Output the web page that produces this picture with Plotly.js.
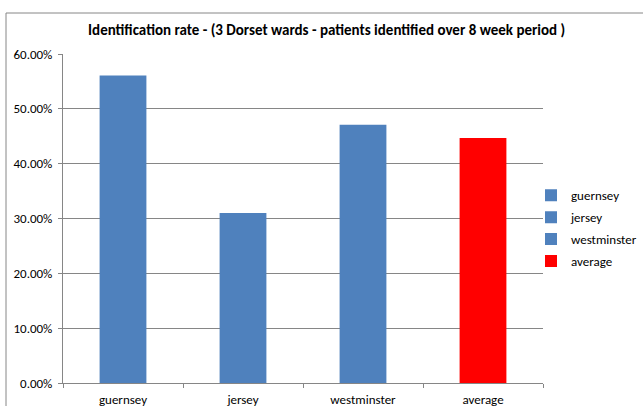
<!DOCTYPE html>
<html>
<head>
<meta charset="utf-8">
<script src="https://cdn.plot.ly/plotly-3.0.1.min.js"></script>
<style>html,body{margin:0;padding:0;background:#fff;overflow:hidden}</style>
</head>
<body>
<div id="chart" style="width:643px;height:406px"></div>
<script>
const categories = ["guernsey", "jersey", "westminster", "average"];
const values = [0.561, 0.31, 0.471, 0.447];
const colors = ["#4F81BD", "#4F81BD", "#4F81BD", "#FF0000"];
const titleText = "Identification rate - (3 Dorset wards - patients identified over 8 week period )";

const FONT = "Carlito, Calibri, 'Liberation Sans Narrow', sans-serif";

const traces = categories.map((c, i) => ({
  type: "bar",
  name: c,
  legendgroup: c,
  x: [c],
  y: [values[i]],
  width: 0.39,
  marker: {color: colors[i]},
  hoverinfo: "x+y"
}));

const layout = {
  width: 643, height: 406,
  margin: {l: 63, r: 100, t: 54, b: 23, autoexpand: false},
  paper_bgcolor: "#fff", plot_bgcolor: "#fff",
  barmode: "overlay",
  font: {family: FONT, size: 13, color: "#000"},
  title: {text: "<b>" + titleText + "</b>", font: {family: FONT, size: 15, color: "#000"},
          x: 0.508, xanchor: "center", y: 0.926, yanchor: "middle"},
  xaxis: {
    type: "category", categoryorder: "array", categoryarray: categories,
    showline: true, linecolor: "#868686", linewidth: 1,
    ticks: "outside", tickson: "boundaries", ticklen: 4, tickcolor: "#868686",
    showgrid: false, ticklabelstandoff: 4,
    tickfont: {family: FONT, size: 13, color: "#000"}
  },
  yaxis: {
    range: [0, 0.6], dtick: 0.1, tickformat: ".2%",
    showline: true, linecolor: "#868686", linewidth: 1,
    ticks: "outside", ticklen: 4, tickcolor: "#868686",
    showgrid: true, gridcolor: "#868686", gridwidth: 1,
    zeroline: false, ticklabelstandoff: 3,
    tickfont: {family: FONT, size: 13, color: "#000"}
  },
  legend: {x: 0.975, y: 0.47, yanchor: "middle", xanchor: "left",
           traceorder: "grouped", tracegroupgap: 2,
           font: {family: FONT, size: 13, color: "#000"}, itemwidth: 30,
           bgcolor: "rgba(0,0,0,0)"},
  shapes: [{type: "rect", xref: "paper", yref: "paper",
            x0: -0.11875, x1: 2, y0: -1, y1: 1.1246,
            line: {color: "#868686", width: 1}, fillcolor: "rgba(0,0,0,0)", layer: "below"}]
};

Plotly.newPlot("chart", traces, layout, {displayModeBar: false, staticPlot: true});
</script>
</body>
</html>
